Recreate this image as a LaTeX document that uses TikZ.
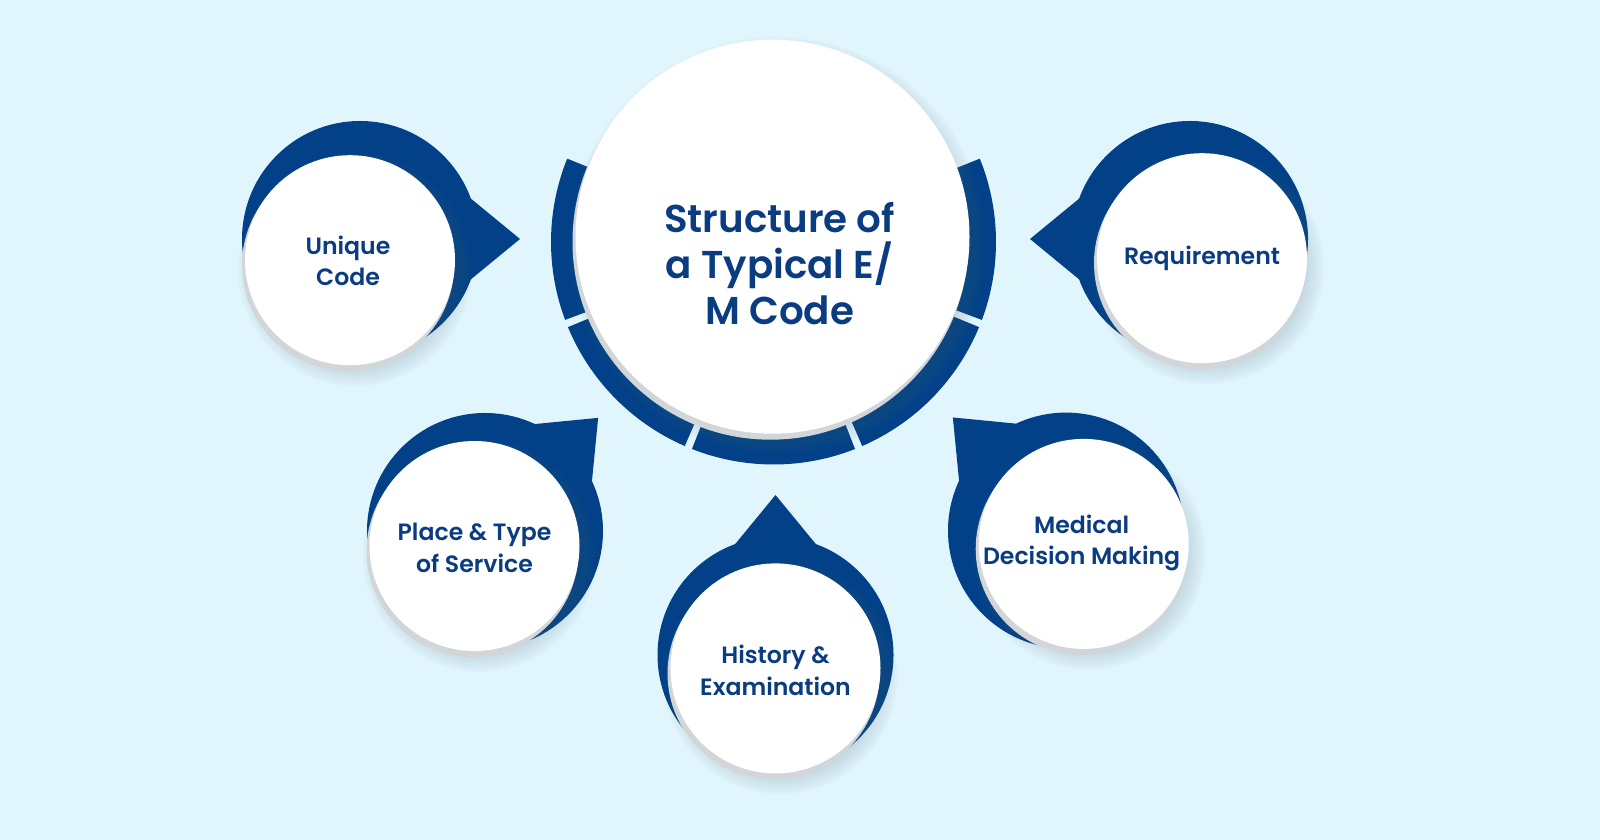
\documentclass[tikz,border=0pt]{standalone}
\usepackage{fontspec}
\setmainfont{Poppins}[BoldFont={Poppins SemiBold}]
\usetikzlibrary{calc}
\definecolor{bg}{HTML}{E1F5FC}
\definecolor{navy}{HTML}{024188}
\definecolor{txt}{HTML}{0A3C82}
\definecolor{rim}{HTML}{D3D6D9}
\definecolor{shd}{HTML}{5A7080}
\newcommand\mkdrop[4]{%
  \node[navyc] (#1) at (#2,#3) {};
  \coordinate (#1tip) at ($(#1.center)+(#4:160)$);
  \fill[navy] (#1.center) -- ($(#1.center)+({#4+20}:118)$) -- (#1tip) -- ($(#1.center)+({#4-20}:118)$) -- cycle;
}
\newcommand\mkwhite[4]{%
  \foreach \k in {0,...,9}{
    \fill[shd, opacity=0.022] ($(#2,#3)+(5,-9)$) circle[radius={#4+12-\k*2.2}];
  }
  \fill[rim] ($(#2,#3)+(-2,-5)$) circle[radius=#4+1];
  \node[wcirc, minimum size=#4 pt] (#1) at (#2,#3) {};
}
\begin{document}
\begin{tikzpicture}[x=0.5pt,y=0.5pt,
  navyc/.style={circle,fill=navy,inner sep=0pt,outer sep=0pt,minimum size=118pt},
  wcirc/.style={circle,fill=white,inner sep=0pt,outer sep=0pt},
  lbl/.style={align=center,text=txt,font=\bfseries\fontsize{11.8}{15.8}\selectfont,inner sep=0pt},
  title/.style={align=center,text=txt,font=\bfseries\fontsize{19.4}{23}\selectfont,inner sep=0pt}]
\useasboundingbox (0,0) rectangle (1600,840);
\fill[bg] (0,0) rectangle (1600,840);

% teardrops
\mkdrop{nU}{360}{601}{0}
\mkdrop{nR}{1190}{601}{180}
\mkdrop{nP}{485}{309}{45}
\mkdrop{nH}{775.5}{185}{90}
\mkdrop{nM}{1066}{309.4}{135}

% ring segments
\coordinate (rc) at (773.5,598);
\foreach \a/\b in {158/200.5, 202.5/246.5, 248.5/291.5, 293.5/337.5, 339.5/382}{
  \fill[navy] ($(rc)+(\a:222.5)$) arc[start angle=\a, end angle=\b, radius=222.5]
     -- ($(rc)+(\b:178)$) arc[start angle=\b, end angle=\a, radius=178] -- cycle;
}

% white circles
\mkwhite{wC}{772.5}{603.3}{197}
\mkwhite{wU}{350}{579.8}{105}
\mkwhite{wR}{1202}{581.8}{105}
\mkwhite{wP}{474.5}{294}{105}
\mkwhite{wH}{775.5}{171.6}{105}
\mkwhite{wM}{1083.7}{296.1}{105}

% labels
\node[title] (tC) at (779.6,576.7) {Structure of\\a Typical E/\\M Code};
\node[lbl] (tU) at (348,579.3) {Unique\\Code};
\node[lbl] (tR) at (1202,581.8) {Requirement};
\node[lbl] (tP) at (474.5,292) {Place \& Type\\of Service};
\node[lbl] (tH) at (775.5,169.6) {History \&\\Examination};
\node[lbl] (tM) at (1081.6,297.1) {Medical\\Decision Making};
\end{tikzpicture}
\end{document}
